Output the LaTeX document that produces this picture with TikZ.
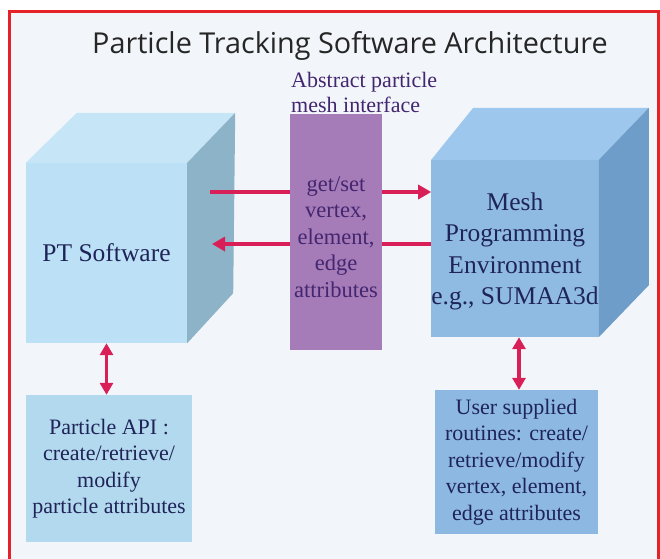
\documentclass[tikz,border=0pt]{standalone}
\usepackage{fontspec}
\setmainfont{Liberation Serif}
\newfontfamily\titlefont{Open Sans}
\usetikzlibrary{arrows.meta}
\definecolor{bgc}{HTML}{F2F6FA}
\definecolor{framec}{HTML}{E52228}
\definecolor{arrc}{HTML}{D81F57}
\definecolor{navy}{HTML}{1F2458}
\definecolor{purptxt}{HTML}{43266F}
\definecolor{purp}{HTML}{A67CB8}
\definecolor{lfront}{HTML}{BCE0F5}
\definecolor{ltop}{HTML}{C6E6F8}
\definecolor{lside}{HTML}{8DB3C8}
\definecolor{rfront}{HTML}{8FBBE3}
\definecolor{rtop}{HTML}{9DC7EC}
\definecolor{rside}{HTML}{6F9DC9}
\definecolor{lbox}{HTML}{B3D9EE}
\definecolor{rbox}{HTML}{8DB8E2}
\tikzset{
  titletext/.style={font=\titlefont\fontsize{28.8}{32}\selectfont, text=black!85, inner sep=0pt},
  serif22/.style={font=\fontsize{22}{26.5}\selectfont, text=navy, align=center, inner sep=0pt},
  purplabel/.style={font=\fontsize{22}{25}\selectfont, text=purptxt, inner sep=0pt},
  cubefront/.style={minimum width=#1, inner sep=0pt, font=\fontsize{25.5}{31.5}\selectfont, text=navy, align=center},
  arr/.style={draw=arrc, line width=3.5pt, -{Triangle[length=13pt,width=14pt]}},
  darr/.style={draw=arrc, line width=3.5pt, {Triangle[length=12pt,width=13pt]}-{Triangle[length=12pt,width=13pt]}},
}
\begin{document}
\begin{tikzpicture}[x=1pt,y=-1pt]
\useasboundingbox (0,0) rectangle (660,558);
\fill[white] (0,0) rectangle (660,558);
\fill[bgc] (9,11.5) rectangle (658,575);
\draw[framec, line width=3pt] (9,11.5) rectangle (658,580);

% title
\node[titletext, anchor=base] (title) at (350,53) {Particle Tracking Software Architecture};
\node[purplabel, anchor=base west] (abs1) at (291,87) {Abstract particle};
\node[purplabel, anchor=base west] (abs2) at (291,112) {mesh interface};

% left cube
\node[cubefront=161pt, minimum height=180pt, fill=lfront] (pt) at (106.5,253) {PT Software};
\fill[ltop] (pt.north west) -- ++(51,-50) -- ([shift={(48,-50)}]pt.north east) -- (pt.north east) -- cycle;
\fill[lside] (pt.north east) -- ([shift={(48,-50)}]pt.north east) -- ([shift={(46,-50)}]pt.south east) -- (pt.south east) -- cycle;

% right cube
\node[cubefront=160pt, minimum height=177pt, fill=rfront, text depth=0pt] (mesh) at (515,248.5) {Mesh\\Programming\\Environment\\e.g., SUMAA3d};
\fill[rtop] (mesh.north west) -- ++(42,-52) -- ([shift={(50,-52)}]mesh.north east) -- (mesh.north east) -- cycle;
\fill[rside] (mesh.north east) -- ([shift={(50,-52)}]mesh.north east) -- ([shift={(50,-52)}]mesh.south east) -- (mesh.south east) -- cycle;

% horizontal arrows (behind interface box)
\coordinate (s1) at (210,192);
\coordinate (s2) at (212,244);
\draw[arr] (s1) -- (mesh.west |- s1);
\draw[arr] (mesh.west |- s2) -- (s2);

% interface box
\node[fill=purp, minimum width=92pt, minimum height=236pt, inner sep=0pt] (iface) at (336,232) {};
\node[purplabel, align=center, font=\fontsize{22.5}{26.5}\selectfont] (ifacetext) at (336,237) {get/set\\vertex,\\element,\\edge\\attributes};

% bottom boxes
\node[serif22, fill=lbox, minimum width=166pt, minimum height=147pt] (api) at (109,468.5) {Particle API :\\create/retrieve/\\modify\\particle attributes};
\node[serif22, fill=rbox, minimum width=163pt, minimum height=144pt] (user) at (516.5,462) {User supplied\\routines: create/\\retrieve/modify\\vertex, element,\\edge attributes};

\draw[darr] (pt.south) -- (pt.south |- api.north);
\draw[darr] ([xshift=4pt]mesh.south) -- ([xshift=4pt]mesh.south |- user.north);
\end{tikzpicture}
\end{document}
